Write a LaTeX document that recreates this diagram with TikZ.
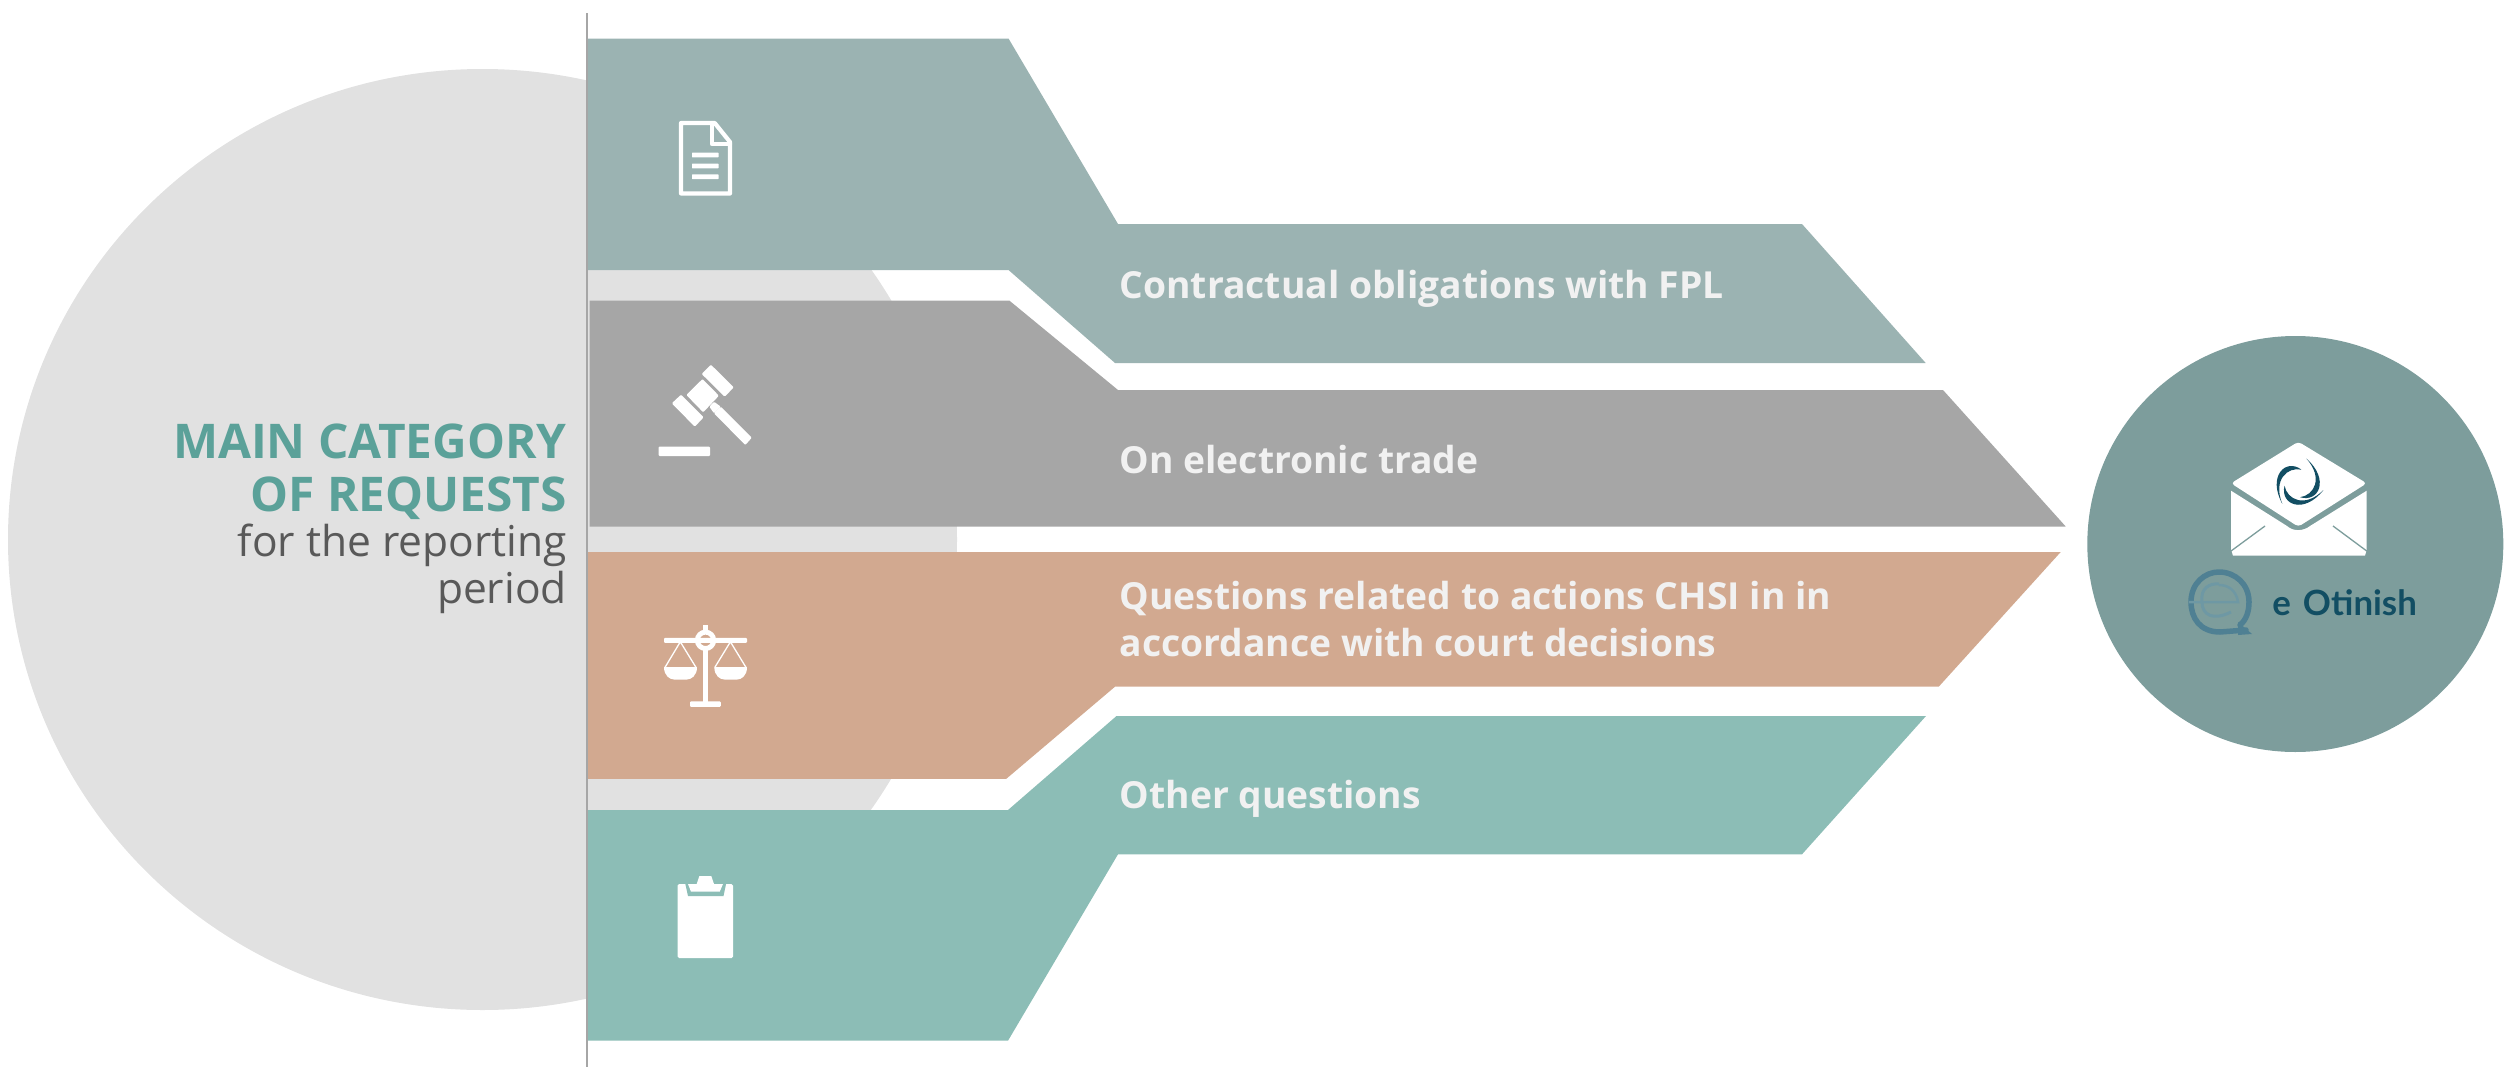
\documentclass[tikz,border=0pt]{standalone}
\usepackage{fontspec}
\setmainfont{Open Sans}
\newfontfamily\logofont{Lato}
\definecolor{bandA}{HTML}{9BB3B2}
\definecolor{bandB}{HTML}{A6A6A6}
\definecolor{bandC}{HTML}{D2A990}
\definecolor{bandD}{HTML}{8CBDB6}
\definecolor{discgray}{HTML}{E1E1E1}
\definecolor{disc}{HTML}{7D9D9C}
\definecolor{titleteal}{HTML}{5BA199}
\definecolor{subgray}{HTML}{595959}
\definecolor{labelwhite}{HTML}{F1F1F1}
\definecolor{logodark}{HTML}{124E63}
\definecolor{logomid}{HTML}{4F8093}
\definecolor{logolight}{HTML}{6E98A4}
\tikzset{
  labeltext/.style={anchor=base west,inner sep=0pt,text=labelwhite,font=\fontsize{10.6}{12}\selectfont\bfseries},
  titletext/.style={anchor=base east,inner sep=0pt,text=titleteal,font=\fontsize{13.6}{16}\selectfont\bfseries},
  subtext/.style={anchor=base east,inner sep=0pt,text=subgray,font=\fontsize{12.1}{16}\selectfont},
  iconfill/.style={fill=white,draw=none},
  iconline/.style={draw=white,line width=0.42mm,line join=round,line cap=round}
}
\begin{document}
\begin{tikzpicture}[x=0.1mm,y=-0.1mm]
\useasboundingbox (0,0) rectangle (2509,1067);
% large disc
\fill[discgray] (482.5,539.5) ellipse [x radius=47.45mm,y radius=47.05mm];
% bands
\fill[bandA] (588,38.5) -- (1008.5,38.5) -- (1118,224) -- (1802,224) -- (1925.7,363) -- (1115,363) -- (1008.5,270) -- (588,270) -- cycle;
\fill[bandB] (589.6,300.7) -- (1009.5,300.7) -- (1118,390) -- (1943,390) -- (2065.7,526.5) -- (589.6,526.5) -- cycle;
\fill[bandC] (588,552) -- (2060.7,552) -- (1938.7,686.7) -- (1115,686.7) -- (1006.3,778.8) -- (588,778.8) -- cycle;
\fill[bandD] (588,810) -- (1008,810) -- (1116.5,716) -- (1926,716) -- (1802,854.3) -- (1118,854.3) -- (1008,1040.7) -- (588,1040.7) -- cycle;
% axis
\draw[color=bandB,line width=0.22mm] (587,13) -- (587,1067);
% right disc
\fill[disc] (2295.3,544) circle [radius=20.8mm];
% texts
\node[titletext] (t1) at (567.5,458.7) {MAIN CATEGORY};
\node[titletext] (t2) at (567.5,511) {OF REQUESTS};
\node[subtext] (t3) at (567.5,556.5) {for the reporting};
\node[subtext] (t4) at (567.5,603.2) {period};
\node[labeltext] (l1) at (1119,298) {Contractual obligations with FPL};
\node[labeltext] (l2) at (1119,473) {On electronic trade};
\node[labeltext] (l3a) at (1119,609) {Questions related to actions CHSI in in};
\node[labeltext] (l3b) at (1119,656) {accordance with court decisions};
\node[labeltext] (l4) at (1119,808) {Other questions};
% document icon
\draw[iconline] (714.7,123) -- (681,123) -- (681,193.5) -- (730,193.5) -- (730,142) -- cycle;
\draw[iconline] (712,123) -- (712,144) -- (730,144);
\foreach \yy in {155,166,176.7}
  \fill[white,rounded corners=0.05mm] (692,\yy-2.4) rectangle (718.5,\yy+2.4);
% gavel icon
\begin{scope}[iconfill,rounded corners=0.1mm]
\fill[white] (710.9,364.7) -- (733.8,387.3) -- (724.7,396.7) -- (701.7,374) -- cycle;
\fill[white] (702.5,379) -- (718.9,395.7) -- (703.2,412.3) -- (686.4,395) -- cycle;
\fill[white] (681,394.7) -- (703.6,417.3) -- (694.8,426.7) -- (671.8,403.3) -- cycle;
\fill[white] (714,401.7) -- (720.8,406.7) -- (714,413.3) -- (709.4,406.7) -- cycle;
\fill[white] (720.8,406.7) -- (751.8,437.7) -- (745.3,445) -- (714,413.3) -- cycle;
\fill[white] (658.5,446.7) rectangle (710,456);
\end{scope}
% scales icon
\fill[white,rounded corners=0.1mm] (664,637.8) rectangle (747,642.8);
\fill[white,even odd rule] (705.5,640.3) circle [radius=1.07mm] (705.5,640.3) circle [radius=0.57mm];
\fill[white] (703,624.8) rectangle (708,631);
\fill[white] (702.8,650) rectangle (708.2,702);
\fill[white,rounded corners=0.1mm] (690,701.4) rectangle (720.8,706.9);
\draw[white,line width=0.13mm] (665,667.4) -- (680.3,641.8) -- (696,667.4);
\draw[white,line width=0.13mm] (714.8,667.4) -- (730.4,641.8) -- (746,667.4);
\fill[white] (664,667) .. controls (664,676) and (670,679.5) .. (674,679.5) -- (687,679.5) .. controls (691,679.5) and (697,676) .. (697,667) -- cycle;
\fill[white] (714.3,667) .. controls (714.3,676) and (720.3,679.5) .. (724.3,679.5) -- (737.3,679.5) .. controls (741.3,679.5) and (747,676) .. (747,667) -- cycle;
% clipboard icon
\fill[white,rounded corners=0.15mm] (677.6,884) rectangle (733,958);
\fill[bandD] (684,878) -- (688,896) -- (723.5,896) -- (727.3,878) -- cycle;
\fill[white] (688,884) -- (691,891.7) -- (719.7,891.7) -- (723,884) -- (714,884) -- (711.3,876) -- (699.4,876) -- (696.7,884) -- cycle;
% envelope
\fill[white,rounded corners=0.35mm] (2298.3,441.7) -- (2366.7,483.3) -- (2298.3,526.7) -- (2231,483.3) -- cycle;
\fill[white] (2231,490.7) -- (2287,526) .. controls (2293,531.5) and (2303,531.5) .. (2310,526) -- (2366.7,490.7) -- (2366.7,549.3) -- (2365,555.7) -- (2233,555.7) -- (2231,549.3) -- cycle;
\draw[disc,line width=0.13mm] (2231,551) -- (2265,526);
\draw[disc,line width=0.13mm] (2366.7,551) -- (2333,526);
% swirl
\foreach \ang in {-83,-170,-283}{
  \begin{scope}[shift={(2298.3,483.3)},rotate=\ang]
    \fill[logodark] (14,0) .. controls (22,-18) and (0,-32) .. (-23.6,-11) .. controls (-2,-26) and (14,-14) .. (14,0) -- cycle;
  \end{scope}
}
% e-Otinish logo
\draw[logomid,line width=0.55mm,line cap=round] (2246,630) -- (2220,632) .. controls (2200,632) and (2191,618) .. (2191,602) .. controls (2191,583) and (2205,572) .. (2219,572) .. controls (2235,572) and (2249,584) .. (2249,602) .. controls (2249,612) and (2246,620) .. (2240,625);
\fill[logomid] (2238,622) -- (2252,634) -- (2238,635) -- cycle;
\draw[logolight,line width=0.25mm] (2189,602) -- (2238,602) .. controls (2236,590) and (2228,585) .. (2219,585);
\draw[logolight,line width=0.3mm] (2202,602) .. controls (2200,588) and (2210,583) .. (2219,584);
\draw[logolight,line width=0.3mm] (2202,602) .. controls (2202,615) and (2213,621) .. (2231,612);
\node[anchor=base west,inner sep=0pt,text=logodark,font=\fontsize{9.9}{12}\selectfont\logofont\bfseries] (logo) at (2271.7,615) {e\hspace{1.2mm}Otinish};
\end{tikzpicture}
\end{document}
